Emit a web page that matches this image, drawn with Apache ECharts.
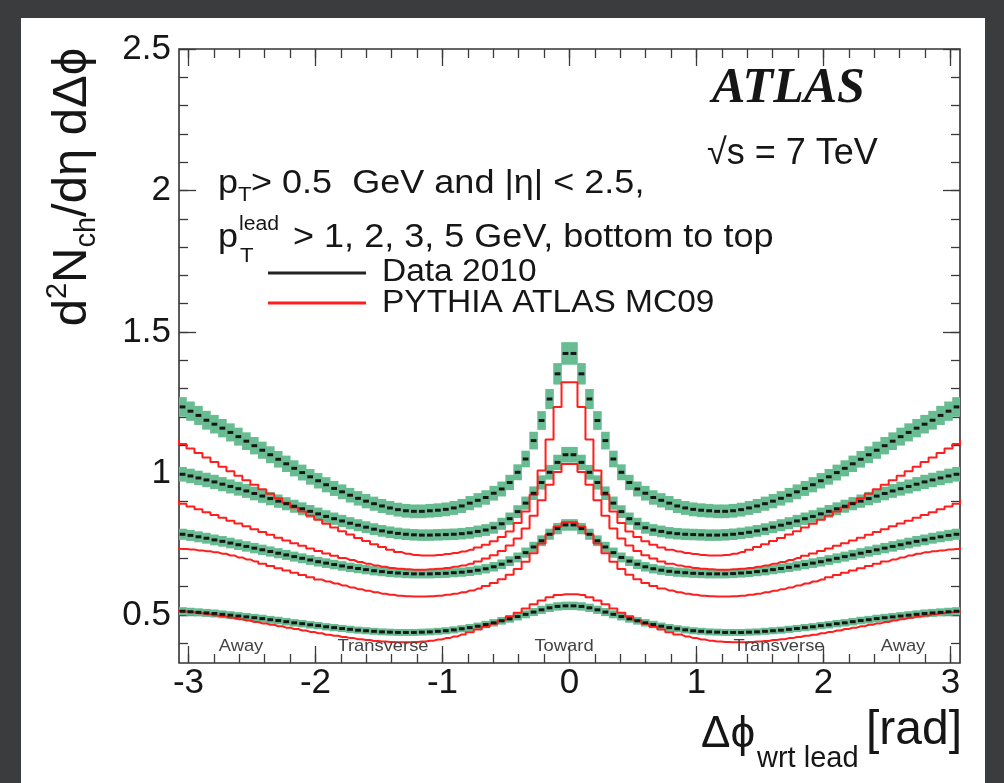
<!DOCTYPE html>
<html><head><meta charset="utf-8">
<script src="https://cdn.jsdelivr.net/npm/echarts@6/dist/echarts.min.js"></script>
<style>
html,body{margin:0;padding:0;background:#3a3c3e;width:1004px;height:783px;overflow:hidden;}
#panel{position:absolute;left:21px;top:18px;width:964px;height:765px;background:#fff;}
#chart{position:absolute;left:0;top:0;width:1004px;height:783px;}
</style></head><body>
<div id="panel"></div><div id="chart"></div>
<script>
// ---- axis definitions ----
const xRange = [-3.075, 3.075];
const yRange = [0.33, 2.5];
const xTickLabels = [-3, -2, -1, 0, 1, 2, 3];
const xMinorTicks = [-3,-2.8,-2.6,-2.4,-2.2,-2,-1.8,-1.6,-1.4,-1.2,-1,-0.8,-0.6,-0.4,-0.2,0,0.2,0.4,0.6,0.8,1,1.2,1.4,1.6,1.8,2,2.2,2.4,2.6,2.8,3];
const yTickLabels = [0.5, 1, 1.5, 2, 2.5];
const yMinorTicks = [0.4,0.5,0.6,0.7,0.8,0.9,1,1.1,1.2,1.3,1.4,1.5,1.6,1.7,1.8,1.9,2,2.1,2.2,2.3,2.4,2.5];
const nBins = 100; // bins of width 2pi/100 over [-pi, pi]

// ---- Data 2010 (black points, green band), p_T^lead > 1, 2, 3, 5 GeV ----
const data1 = [0.514,0.513,0.511,0.509,0.507,0.505,0.502,0.499,0.496,0.493,0.490,0.487,0.483,0.480,0.476,0.472,0.469,0.465,0.462,0.458,0.455,0.452,0.449,0.446,0.444,0.442,0.440,0.439,0.438,0.438,0.438,0.439,0.440,0.442,0.444,0.447,0.451,0.455,0.460,0.466,0.472,0.479,0.486,0.494,0.502,0.510,0.518,0.525,0.530,0.532,
               0.532,0.530,0.525,0.518,0.510,0.502,0.494,0.486,0.479,0.472,0.466,0.460,0.455,0.451,0.447,0.444,0.442,0.440,0.439,0.438,0.438,0.438,0.439,0.440,0.442,0.444,0.446,0.449,0.452,0.455,0.458,0.462,0.465,0.469,0.472,0.476,0.480,0.483,0.487,0.490,0.493,0.496,0.499,0.502,0.505,0.507,0.509,0.511,0.513,0.514];
const data2 = [0.788,0.785,0.781,0.776,0.771,0.765,0.760,0.754,0.748,0.742,0.736,0.730,0.724,0.718,0.712,0.706,0.700,0.694,0.688,0.683,0.678,0.673,0.668,0.664,0.660,0.656,0.653,0.650,0.648,0.646,0.645,0.645,0.645,0.646,0.647,0.649,0.651,0.654,0.658,0.663,0.670,0.679,0.690,0.703,0.720,0.740,0.762,0.785,0.805,0.818,
               0.818,0.805,0.785,0.762,0.740,0.720,0.703,0.690,0.679,0.670,0.663,0.658,0.654,0.651,0.649,0.647,0.646,0.645,0.645,0.645,0.646,0.648,0.650,0.653,0.656,0.660,0.664,0.668,0.673,0.678,0.683,0.688,0.694,0.700,0.706,0.712,0.718,0.724,0.730,0.736,0.742,0.748,0.754,0.760,0.765,0.771,0.776,0.781,0.785,0.788];
const data3 = [1.000,0.997,0.991,0.984,0.977,0.970,0.962,0.954,0.946,0.938,0.929,0.920,0.911,0.902,0.893,0.884,0.875,0.866,0.857,0.848,0.840,0.832,0.824,0.817,0.810,0.803,0.797,0.792,0.788,0.785,0.783,0.782,0.782,0.783,0.784,0.785,0.787,0.790,0.795,0.800,0.808,0.822,0.840,0.865,0.895,0.930,0.968,1.004,1.039,1.066,
               1.066,1.039,1.004,0.968,0.930,0.895,0.865,0.840,0.822,0.808,0.800,0.795,0.790,0.787,0.785,0.784,0.783,0.782,0.782,0.783,0.785,0.788,0.792,0.797,0.803,0.810,0.817,0.824,0.832,0.840,0.848,0.857,0.866,0.875,0.884,0.893,0.902,0.911,0.920,0.929,0.938,0.946,0.954,0.962,0.970,0.977,0.984,0.991,0.997,1.000];
const data4 = [1.245,1.235,1.220,1.205,1.188,1.174,1.160,1.145,1.130,1.114,1.098,1.082,1.066,1.050,1.034,1.018,1.003,0.988,0.974,0.960,0.947,0.935,0.923,0.912,0.902,0.893,0.885,0.878,0.872,0.868,0.866,0.866,0.868,0.870,0.873,0.878,0.885,0.895,0.905,0.915,0.930,0.945,0.968,1.004,1.051,1.116,1.187,1.263,1.352,1.424,
               1.424,1.352,1.263,1.187,1.116,1.051,1.004,0.968,0.945,0.930,0.915,0.905,0.895,0.885,0.878,0.873,0.870,0.868,0.866,0.866,0.868,0.872,0.878,0.885,0.893,0.902,0.912,0.923,0.935,0.947,0.960,0.974,0.988,1.003,1.018,1.034,1.050,1.066,1.082,1.098,1.114,1.130,1.145,1.160,1.174,1.188,1.205,1.220,1.235,1.245];
// relative half-height of the green uncertainty band, per data curve
const bandRelErr = [0.028, 0.025, 0.026, 0.028];

// ---- PYTHIA ATLAS MC09 (red histograms) ----
const mc1 = [0.514,0.512,0.509,0.506,0.502,0.498,0.494,0.490,0.485,0.480,0.475,0.470,0.465,0.460,0.455,0.450,0.445,0.440,0.435,0.430,0.426,0.422,0.418,0.414,0.411,0.408,0.406,0.404,0.403,0.403,0.404,0.406,0.409,0.413,0.418,0.424,0.431,0.439,0.448,0.458,0.469,0.481,0.494,0.508,0.523,0.538,0.551,0.562,0.570,0.573,
             0.573,0.570,0.562,0.551,0.538,0.523,0.508,0.494,0.481,0.469,0.458,0.448,0.439,0.431,0.424,0.418,0.413,0.409,0.406,0.404,0.403,0.403,0.404,0.406,0.408,0.411,0.414,0.418,0.422,0.426,0.430,0.435,0.440,0.445,0.450,0.455,0.460,0.465,0.470,0.475,0.480,0.485,0.490,0.494,0.498,0.502,0.506,0.509,0.512,0.514];
const mc2 = [0.734,0.733,0.731,0.728,0.725,0.721,0.716,0.710,0.703,0.696,0.689,0.681,0.673,0.665,0.657,0.649,0.641,0.633,0.625,0.618,0.611,0.604,0.597,0.591,0.585,0.580,0.575,0.571,0.568,0.566,0.565,0.565,0.566,0.568,0.571,0.575,0.580,0.586,0.593,0.602,0.613,0.626,0.642,0.662,0.688,0.718,0.752,0.785,0.812,0.827,
             0.827,0.812,0.785,0.752,0.718,0.688,0.662,0.642,0.626,0.613,0.602,0.593,0.586,0.580,0.575,0.571,0.568,0.566,0.565,0.565,0.566,0.568,0.571,0.575,0.580,0.585,0.591,0.597,0.604,0.611,0.618,0.625,0.633,0.641,0.649,0.657,0.665,0.673,0.681,0.689,0.696,0.703,0.710,0.716,0.721,0.725,0.728,0.731,0.733,0.734];
const mc3 = [0.904,0.893,0.883,0.873,0.863,0.853,0.843,0.833,0.823,0.813,0.803,0.793,0.783,0.773,0.763,0.753,0.744,0.735,0.726,0.717,0.709,0.701,0.694,0.687,0.681,0.675,0.670,0.666,0.663,0.661,0.660,0.660,0.661,0.663,0.666,0.670,0.675,0.681,0.689,0.699,0.711,0.726,0.745,0.770,0.805,0.850,0.905,0.960,1.005,1.033,
             1.033,1.005,0.960,0.905,0.850,0.805,0.770,0.745,0.726,0.711,0.699,0.689,0.681,0.675,0.670,0.666,0.663,0.661,0.660,0.660,0.661,0.663,0.666,0.670,0.675,0.681,0.687,0.694,0.701,0.709,0.717,0.726,0.735,0.744,0.753,0.763,0.773,0.783,0.793,0.803,0.813,0.823,0.833,0.843,0.853,0.863,0.873,0.883,0.893,0.904];
const mc4 = [1.116,1.104,1.088,1.072,1.056,1.040,1.024,1.008,0.992,0.976,0.960,0.944,0.928,0.912,0.896,0.880,0.865,0.850,0.836,0.822,0.809,0.796,0.784,0.772,0.761,0.750,0.740,0.730,0.722,0.716,0.712,0.710,0.710,0.712,0.715,0.719,0.724,0.730,0.738,0.748,0.760,0.775,0.795,0.825,0.865,0.925,1.010,1.120,1.235,1.322,
             1.322,1.235,1.120,1.010,0.925,0.865,0.825,0.795,0.775,0.760,0.748,0.738,0.730,0.724,0.719,0.715,0.712,0.710,0.710,0.712,0.716,0.722,0.730,0.740,0.750,0.761,0.772,0.784,0.796,0.809,0.822,0.836,0.850,0.865,0.880,0.896,0.912,0.928,0.944,0.960,0.976,0.992,1.008,1.024,1.040,1.056,1.072,1.088,1.104,1.116];

const dataCurves = [data1, data2, data3, data4];
const mcCurves = [mc1, mc2, mc3, mc4];

// ---- text ----
const legendLabels = ['Data 2010', 'PYTHIA ATLAS MC09'];
const regionLabels = ['Away', 'Transverse', 'Toward', 'Transverse', 'Away'];

// ---- build ----
const binW = 2 * Math.PI / nBins;
const binCenters = Array.from({length: nBins}, (_, k) => -Math.PI + (k + 0.5) * binW);

const FONT = '"Liberation Sans", Arial, Helvetica, sans-serif';
const GREEN = '#68bc91';
const RED = '#ff1e1e';
const INK = '#161616';
const AX = '#3a3a3a';

function bandSeries(vals, rel) {
  return {
    type: 'custom', xAxisIndex: 0, yAxisIndex: 0, z: 2, silent: true, animation: false, clip: true,
    data: vals.map((v, k) => [binCenters[k], v, v * rel]),
    encode: {x: 0, y: 1},
    renderItem(params, api) {
      const c = api.value(0), v = api.value(1), e = api.value(2);
      const p0 = api.coord([c - binW / 2, v + e]);
      const p1 = api.coord([c + binW / 2, v - e]);
      const r = echarts.graphic.clipRectByRect(
        {x: p0[0] - 0.3, y: p0[1], width: p1[0] - p0[0] + 0.6, height: p1[1] - p0[1]}, params.coordSys);
      if (!r) return null;
      return {type: 'rect', shape: r, style: {fill: GREEN}};
    }
  };
}
function dashSeries(vals) {
  return {
    type: 'custom', xAxisIndex: 0, yAxisIndex: 0, z: 4, silent: true, animation: false, clip: true,
    data: vals.map((v, k) => [binCenters[k], v]),
    encode: {x: 0, y: 1},
    renderItem(params, api) {
      const c = api.value(0), v = api.value(1);
      if (c < xRange[0] || c > xRange[1]) return null;
      const a = api.coord([c - binW * 0.36, v]);
      const b = api.coord([c + binW * 0.36, v]);
      return {type: 'line', shape: {x1: a[0], y1: a[1], x2: b[0], y2: b[1]},
              style: {stroke: INK, lineWidth: 3}};
    }
  };
}
function mcSeries(vals) {
  return {
    type: 'line', xAxisIndex: 0, yAxisIndex: 0, z: 3, silent: true, animation: false, clip: true,
    step: 'middle', showSymbol: false, symbol: 'none',
    data: vals.map((v, k) => [binCenters[k], v]),
    lineStyle: {color: RED, width: 2}
  };
}

const series = [];
dataCurves.forEach((d, i) => series.push(bandSeries(d, bandRelErr[i])));
mcCurves.forEach(m => series.push(mcSeries(m)));
dataCurves.forEach(d => series.push(dashSeries(d)));

function xAx(pos, vals, len, labels) {
  return {
    type: 'value', min: xRange[0], max: xRange[1], position: pos,
    axisLine: {show: false, onZero: false}, splitLine: {show: false}, minorTick: {show: false},
    axisTick: {show: true, inside: true, length: len, customValues: vals, lineStyle: {color: AX, width: 1.3}},
    axisLabel: labels ? {show: true, customValues: vals, fontSize: 35, color: INK, fontFamily: FONT, margin: 3}
                      : {show: false}
  };
}
function yAx(pos, vals, len, labels) {
  return {
    type: 'value', min: yRange[0], max: yRange[1], position: pos,
    axisLine: {show: false, onZero: false}, splitLine: {show: false}, minorTick: {show: false},
    axisTick: {show: true, inside: true, length: len, customValues: vals, lineStyle: {color: AX, width: 1.3}},
    axisLabel: labels ? {show: true, customValues: vals, fontSize: 35, color: INK, fontFamily: FONT, margin: 8}
                      : {show: false}
  };
}

const T = (x, y, text, size, extra, sx) => ({
  type: 'text', x, y, silent: true, z: 10, scaleX: sx || 1,
  style: Object.assign({text, fill: INK, font: size + 'px ' + FONT, align: 'left', verticalAlign: 'middle'}, extra || {})
});

const chart = echarts.init(document.getElementById('chart'), null, {renderer: 'canvas'});
chart.setOption({
  backgroundColor: 'transparent',
  animation: false,
  textStyle: {fontFamily: FONT},
  grid: {left: 179, right: 44, top: 49, bottom: 120, show: true, borderColor: '#333', borderWidth: 1.6,
         backgroundColor: 'transparent', containLabel: false, outerBoundsMode: 'none'},
  xAxis: [xAx('bottom', xTickLabels, 17, true), xAx('bottom', xMinorTicks, 9, false),
          xAx('top', xTickLabels, 17, false), xAx('top', xMinorTicks, 9, false)],
  yAxis: [yAx('left', yTickLabels, 17, true), yAx('left', yMinorTicks, 9, false),
          yAx('right', yTickLabels, 17, false), yAx('right', yMinorTicks, 9, false)],
  series,
  graphic: [
    // y axis title
    {type: 'text', x: 72, y: 187, rotation: Math.PI / 2, silent: true, z: 10,
     style: {text: '{m|d}{sup|2}{m|N}{sub|ch}{m|/dη dΔϕ}', fill: INK, align: 'center', verticalAlign: 'middle',
       rich: {m: {fontSize: 49, fontFamily: FONT, lineHeight: 58, fill: INK},
              sup: {fontSize: 29, fontFamily: FONT, lineHeight: 31, verticalAlign: 'top', fill: INK},
              sub: {fontSize: 29, fontFamily: FONT, lineHeight: 27, verticalAlign: 'bottom', fill: INK}}}},
    // x axis title
    T(701, 735, 'Δϕ', 44),
    T(757, 759, 'wrt lead', 29),
    T(962, 731, '[rad]', 48, {align: 'right'}),
    // ATLAS label
    T(712, 89, 'ATLAS', 50, {font: 'italic bold 50px "Liberation Serif", "Times New Roman", serif'}),
    T(707, 154, '√s = 7 TeV', 36),
    // selection text
    T(218, 184, 'p', 34, null, 1.06),
    T(238, 195, 'T', 21, null, 1.06),
    T(251, 184, '> 0.5  GeV and |η| < 2.5,', 34, null, 1.06),
    T(218, 238, 'p', 34, null, 1.06),
    T(239, 224, 'lead', 20, null, 1.06),
    T(240, 256, 'T', 21, null, 1.06),
    T(293, 238, '> 1, 2, 3, 5 GeV, bottom to top', 34, null, 1.06),
    // legend
    {type: 'line', silent: true, z: 10, shape: {x1: 268, y1: 273, x2: 366, y2: 273}, style: {stroke: '#222', lineWidth: 3}},
    {type: 'line', silent: true, z: 10, shape: {x1: 268, y1: 303, x2: 366, y2: 303}, style: {stroke: RED, lineWidth: 3}},
    T(382, 272, legendLabels[0], 31, null, 1.08),
    T(382, 303, legendLabels[1], 31, null, 1.08),
    // region labels
    T(241, 646, regionLabels[0], 17, {align: 'center', fill: '#444'}, 1.08),
    T(383, 646, regionLabels[1], 17, {align: 'center', fill: '#444'}, 1.08),
    T(564, 646, regionLabels[2], 17, {align: 'center', fill: '#444'}, 1.08),
    T(779, 646, regionLabels[3], 17, {align: 'center', fill: '#444'}, 1.08),
    T(903, 646, regionLabels[4], 17, {align: 'center', fill: '#444'}, 1.08)
  ]
});
</script>
</body></html>
